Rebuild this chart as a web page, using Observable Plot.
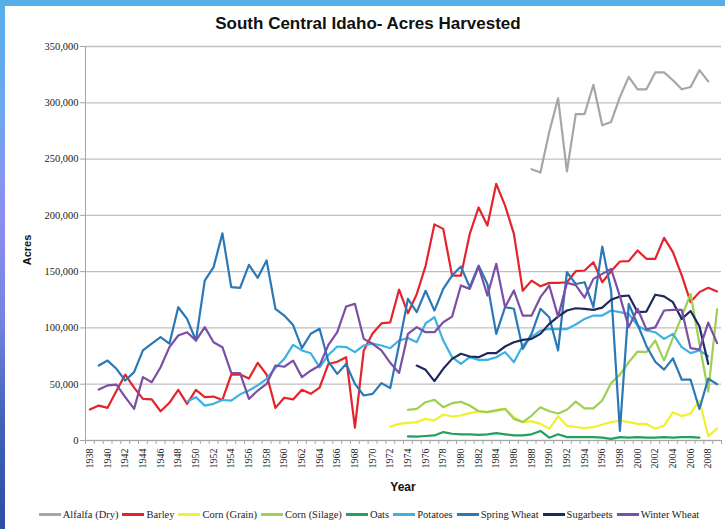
<!DOCTYPE html>
<html><head><meta charset="utf-8">
<script src="https://cdn.jsdelivr.net/npm/d3@7"></script>
<script src="https://cdn.jsdelivr.net/npm/@observablehq/plot@0.6"></script>
<style>
html,body{margin:0;padding:0;background:#fff;}
#wrap{position:relative;width:725px;height:529px;overflow:hidden;background:#fff;}
#chart{position:absolute;left:0;top:0;}
#leftbar{position:absolute;left:0;top:0;width:5px;height:529px;background:linear-gradient(#55b0ea 0%,#6fa6ee 22%,#8e8ef2 40%,#7584e2 60%,#3f63b8 80%,#2c4ca8 100%);}
#topbar{position:absolute;left:0;top:0;width:725px;height:6px;background:#56b0e8;}
#title{position:absolute;top:14px;left:0;width:736px;text-align:center;font:bold 17px "Liberation Sans",Arial,sans-serif;color:#111;}
#ylab{position:absolute;left:27px;top:250px;transform:translate(-50%,-50%) rotate(-90deg);font:bold 11px "Liberation Sans",Arial,sans-serif;color:#111;white-space:nowrap;}
#xlab{position:absolute;left:403px;top:487px;transform:translate(-50%,-50%);font:bold 12px "Liberation Sans",Arial,sans-serif;color:#111;}
#legend{position:absolute;left:0;top:509px;width:738px;display:flex;justify-content:center;align-items:center;font:10.5px "Liberation Serif",serif;color:#222;white-space:nowrap;}
.item{display:flex;align-items:center;margin:0 2px;}
.sw{display:inline-block;width:22px;height:2.5px;margin-right:2px;}
</style>
</head><body>
<div id="wrap">
  <div id="chart"></div>
  <div id="leftbar"></div>
  <div id="topbar"></div>
  <div id="title">South Central Idaho- Acres Harvested</div>
  <div id="ylab">Acres</div>
  <div id="xlab">Year</div>
  <div id="legend"></div>
</div>
<script>
// ---- categories / labels ----
const seriesNames = ["Alfalfa (Dry)","Barley","Corn (Grain)","Corn (Silage)","Oats","Potatoes","Spring Wheat","Sugarbeets","Winter Wheat"];
const seriesColors = ["#a6a6a6","#e3242b","#f2f02c","#9fcf55","#22a05c","#3cb2e2","#2b78b6","#1d2a5a","#7b4fa6"];
const yTicks = [0,50000,100000,150000,200000,250000,300000,350000];
const xLabelYears = [1938,1940,1942,1944,1946,1948,1950,1952,1954,1956,1958,1960,1962,1964,1966,1968,1970,1972,1974,1976,1978,1980,1982,1984,1986,1988,1990,1992,1994,1996,1998,2000,2002,2004,2006,2008];
const firstYear = 1938, lastYear = 2009;

// ---- series values (acres), each with its first year ----
const alfalfaStart = 1988;
const alfalfa = [241000,238000,274000,304000,239000,290000,290000,316000,280000,283000,305000,323000,312000,312000,327000,327000,320000,312000,314000,329000,319000];

const barleyStart = 1938;
const barley = [27500,31000,29000,44000,58600,47000,37000,36500,26000,33500,
  45000,32500,45000,38500,39000,36000,58600,58600,55000,69000,
  58600,29000,38000,36500,45000,41500,47000,68000,70000,74000,
  11500,80000,95000,104000,105000,134000,113000,130000,155000,192000,
  188000,146500,146500,183500,207000,191000,228000,208700,183500,133000,
  142000,137000,140000,140000,140600,150400,151000,158400,140600,150400,
  159000,159300,168800,161400,161400,180000,167300,146600,123000,131800,
  135600,132400];

const cornGrainStart = 1972;
const cornGrain = [12400,14800,15700,16300,19200,17800,23100,21300,22200,24300,
  26000,25200,27200,28100,20700,16300,17200,14800,10400,21500,
  13000,12000,11000,11800,14200,16300,17800,16300,14800,14800,
  10400,13300,25200,21700,24000,35500,3700,10500];

const cornSilageStart = 1974;
const cornSilage = [27200,28100,34000,36100,29600,33200,34300,31100,26000,25200,
  26600,28100,19200,16300,22200,29600,26000,24000,27300,34500,
  28500,28500,35500,51000,58500,69500,79000,78500,88800,71000,
  91000,110000,130300,86000,43500,116500];

const oatsStart = 1974;
const oats = [3600,3500,4000,4500,7500,6000,5500,5500,5000,5500,
  6500,5500,4500,4500,5500,8500,2500,5500,3000,3000,
  3000,3000,2500,1500,3000,2500,3000,2500,2500,3000,
  2500,3000,3000,2500];

const potatoesStart = 1949;
const potatoes = [34600,38500,31000,32600,36000,35500,41000,44400,49000,54800,
  64500,72500,85000,80000,77500,65000,76000,83500,83000,78500,
  84400,86000,84400,82000,88800,91000,87300,104000,109500,88800,
  74000,68000,74000,71600,71600,74000,78500,69600,84400,91800,
  97700,99200,99000,99000,103000,108000,111000,111000,115500,114000,
  112500,102000,97700,96200,90300,94700,82900,77600,80000,75000];

const springWheatStart = 1939;
const springWheat = [66600,71000,63700,53300,60700,80000,86000,91800,86000,118400,
  108000,88800,142000,154000,184000,136200,135600,156000,144500,160000,
  117000,111000,102500,82000,94800,99200,70000,59200,68000,50300,
  40000,41400,51000,46500,85000,125800,114000,133000,115400,134700,
  146500,154500,136200,155400,139000,94700,118400,117000,81400,94700,
  117000,109500,80000,149500,139000,140600,118400,172300,133200,8500,
  121400,103000,84000,70000,63000,73000,54000,54000,28000,55000,
  50000];

const sugarbeetsStart = 1975;
const sugarbeets = [66600,62800,52700,63700,72500,77000,74600,74000,77600,77600,
  83500,87300,89400,90300,94700,103600,110000,115500,117500,117000,
  116000,118000,125000,128000,128800,114000,114500,129500,128000,122900,
  108000,115000,101500,68000];

const winterWheatStart = 1939;
const winterWheat = [45300,48900,49700,38500,28100,56300,51800,65100,82900,93300,
  96200,88800,100700,87300,82900,60100,59800,37000,44400,50300,
  66600,65500,71000,56300,62000,66600,85000,96200,119000,121400,
  90300,85900,80000,69000,60000,94700,100700,96200,96200,105000,
  110000,137700,134700,154500,128800,157000,118400,133200,111000,111000,
  127300,137700,110000,140000,138000,127000,143600,148000,152400,128000,
  100700,117000,98700,100500,115500,116000,116000,82000,80700,104700,
  86500];

// ---- long table built from the arrays ----
const seriesList = [
  [seriesNames[0], alfalfaStart, alfalfa],
  [seriesNames[1], barleyStart, barley],
  [seriesNames[2], cornGrainStart, cornGrain],
  [seriesNames[3], cornSilageStart, cornSilage],
  [seriesNames[4], oatsStart, oats],
  [seriesNames[5], potatoesStart, potatoes],
  [seriesNames[6], springWheatStart, springWheat],
  [seriesNames[7], sugarbeetsStart, sugarbeets],
  [seriesNames[8], winterWheatStart, winterWheat]
];
const table = [];
for (const [name, start, vals] of seriesList) {
  vals.forEach((v, i) => table.push({series: name, year: start + i, acres: v}));
}
const boundaries = d3.range(firstYear - 0.5, lastYear + 1, 1);

const chart = Plot.plot({
  width: 725, height: 529,
  marginTop: 46, marginBottom: 89, marginLeft: 85, marginRight: 4,
  x: {domain: [firstYear - 0.5, lastYear + 0.5]},
  y: {domain: [0, 350000]},
  color: {domain: seriesNames, range: seriesColors},
  style: {background: "transparent", fontFamily: "'Liberation Serif', serif", color: "#222"},
  marks: [
    Plot.gridY(yTicks, {stroke: "#bfbfbf", strokeOpacity: 1, strokeWidth: 1.3}),
    Plot.ruleX([firstYear - 0.5], {stroke: "#a6a6a6"}),
    Plot.ruleY([0], {stroke: "#a6a6a6"}),
    Plot.axisY(yTicks, {tickSize: 5, tickPadding: 2, tickFormat: d3.format(","), fontSize: 10.5, stroke: "#a6a6a6", fill: "#222", label: null}),
    Plot.axisX(boundaries, {tickSize: 4, tickFormat: () => "", stroke: "#a6a6a6", label: null}),
    Plot.axisX(xLabelYears, {tickSize: 0, tickPadding: 8, tickRotate: -90, tickFormat: d => String(d), fontSize: 10, fill: "#222", label: null}),
    Plot.line(table, {x: "year", y: "acres", stroke: "series", z: "series", strokeWidth: 2.2, strokeLinejoin: "round"})
  ]
});
document.getElementById("chart").appendChild(chart);

const legend = document.getElementById("legend");
seriesNames.forEach((n, i) => {
  const it = document.createElement("span");
  it.className = "item";
  const sw = document.createElement("span");
  sw.className = "sw";
  sw.style.background = seriesColors[i];
  const tx = document.createElement("span");
  tx.textContent = n;
  it.appendChild(sw); it.appendChild(tx);
  legend.appendChild(it);
});
</script>
</body></html>
